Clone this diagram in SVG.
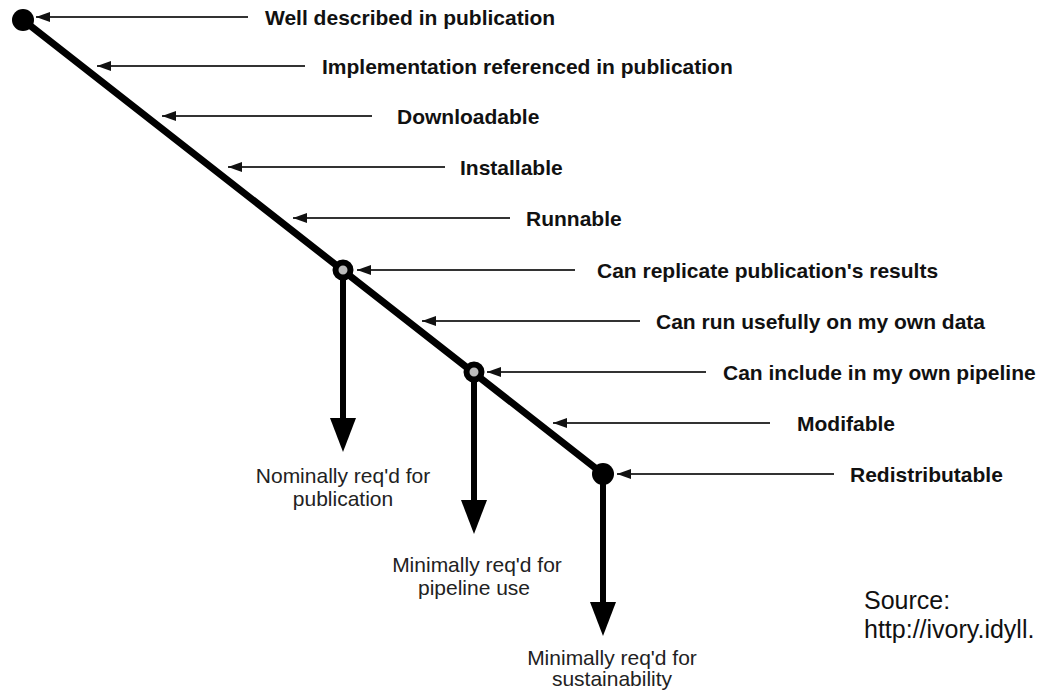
<svg xmlns="http://www.w3.org/2000/svg" width="1041" height="693" viewBox="0 0 1041 693">
  <style>
    .lbl { font-family: "Liberation Sans", Arial, sans-serif; font-weight: bold; font-size: 21px; fill: #111; }
    .note { font-family: "Liberation Sans", Arial, sans-serif; font-size: 21px; fill: #222; text-anchor: middle; }
    .src { font-family: "Liberation Sans", Arial, sans-serif; font-size: 25px; fill: #111; }
    .ptr { stroke: #333; stroke-width: 2; fill: none; marker-end: url(#tip); }
    .spine { stroke: #000; stroke-width: 7; stroke-linecap: round; fill: none; }
    .drop { stroke: #000; stroke-width: 6; fill: none; }
    .head { fill: #000; }
    .dot { fill: #000; }
    .ring { fill: #bbb; stroke: #000; stroke-width: 6; }
  </style>
  <defs>
    <marker id="tip" markerUnits="userSpaceOnUse" markerWidth="15" markerHeight="11" refX="14" refY="5" orient="auto">
      <path d="M0,0 L14,5 L0,10 z" fill="#111"/>
    </marker>
  </defs>

  <!-- main slope and the three downward branches -->
  <g id="connectors">
    <line class="spine" x1="23" y1="20" x2="603" y2="474"/>
    <line class="drop" x1="343" y1="270" x2="343" y2="420"/>
    <polygon class="head" points="330,418 356,418 343,452"/>
    <line class="drop" x1="474" y1="372" x2="474" y2="502"/>
    <polygon class="head" points="461,500 487,500 474,534"/>
    <line class="drop" x1="603" y1="474" x2="603" y2="604"/>
    <polygon class="head" points="590,602 616,602 603,636"/>

    <line class="ptr" x1="248" y1="17" x2="36" y2="17"/>
    <line class="ptr" x1="305" y1="66" x2="97" y2="66"/>
    <line class="ptr" x1="372" y1="116" x2="162" y2="116"/>
    <line class="ptr" x1="445" y1="167" x2="228" y2="167"/>
    <line class="ptr" x1="510" y1="218" x2="293" y2="218"/>
    <line class="ptr" x1="575" y1="270" x2="357" y2="270"/>
    <line class="ptr" x1="640" y1="321" x2="422" y2="321"/>
    <line class="ptr" x1="706" y1="372" x2="487" y2="372"/>
    <line class="ptr" x1="770" y1="423" x2="553" y2="423"/>
    <line class="ptr" x1="834" y1="474" x2="617" y2="474"/>
  </g>

  <!-- milestones on the slope -->
  <g id="node-start"><circle class="dot" cx="23" cy="20" r="11"/></g>
  <g id="node-publication"><circle class="ring" cx="343" cy="270" r="7.5"/></g>
  <g id="node-pipeline"><circle class="ring" cx="474" cy="372" r="7.5"/></g>
  <g id="node-sustainability"><circle class="dot" cx="603" cy="474" r="11"/></g>

  <!-- stage labels -->
  <g id="stage-described"><text class="lbl" x="265" y="25">Well described in publication</text></g>
  <g id="stage-referenced"><text class="lbl" x="322" y="74">Implementation referenced in publication</text></g>
  <g id="stage-downloadable"><text class="lbl" x="397" y="124">Downloadable</text></g>
  <g id="stage-installable"><text class="lbl" x="460" y="175">Installable</text></g>
  <g id="stage-runnable"><text class="lbl" x="526" y="226">Runnable</text></g>
  <g id="stage-replicate"><text class="lbl" x="597" y="278">Can replicate publication's results</text></g>
  <g id="stage-own-data"><text class="lbl" x="656" y="329">Can run usefully on my own data</text></g>
  <g id="stage-own-pipeline"><text class="lbl" x="723" y="380">Can include in my own pipeline</text></g>
  <g id="stage-modifiable"><text class="lbl" x="797" y="431">Modifable</text></g>
  <g id="stage-redistributable"><text class="lbl" x="850" y="482">Redistributable</text></g>

  <!-- requirement thresholds -->
  <g id="req-publication">
    <text class="note" x="343" y="483">Nominally req'd for</text>
    <text class="note" x="343" y="506">publication</text>
  </g>
  <g id="req-pipeline">
    <text class="note" x="477" y="572">Minimally req'd for</text>
    <text class="note" x="474" y="595">pipeline use</text>
  </g>
  <g id="req-sustainability">
    <text class="note" x="612" y="665">Minimally req'd for</text>
    <text class="note" x="612" y="686">sustainability</text>
  </g>

  <g id="source">
    <text class="src" x="864" y="609">Source:</text>
    <text class="src" x="864" y="638">http://ivory.idyll.</text>
  </g>
</svg>
